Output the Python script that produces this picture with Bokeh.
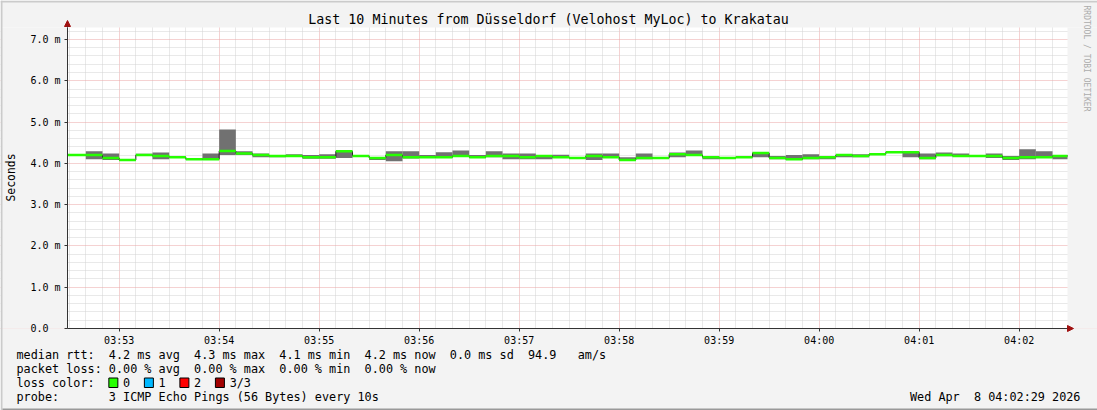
import re
import numpy as np
from bokeh.plotting import figure
from bokeh.models import Range1d, FixedTicker, Arrow, NormalHead
from bokeh.core.properties import value
from bokeh.embed import file_html
from bokeh.resources import INLINE

# ---------------- data ----------------
title_text = "Last 10 Minutes from Düsseldorf (Velohost MyLoc) to Krakatau"
first_step_start = "03:52:30"
window_start = "03:52:29"
window_end = "04:02:29"
step_seconds = 10

median_ms = [4.20, 4.20, 4.13, 4.08, 4.20, 4.18, 4.15, 4.10, 4.10, 4.30,
             4.24, 4.20, 4.18, 4.18, 4.15, 4.15, 4.29, 4.18, 4.13, 4.20,
             4.15, 4.15, 4.15, 4.18, 4.15, 4.18, 4.18, 4.15, 4.18, 4.15,
             4.13, 4.18, 4.15, 4.08, 4.13, 4.13, 4.22, 4.20, 4.15, 4.13,
             4.15, 4.25, 4.13, 4.10, 4.13, 4.15, 4.20, 4.18, 4.22, 4.27,
             4.27, 4.13, 4.20, 4.18, 4.18, 4.18, 4.13, 4.15, 4.15, 4.18]
min_ms = [4.19, 4.10, 4.08, 4.06, 4.19, 4.10, 4.14, 4.09, 4.09, 4.20,
          4.20, 4.15, 4.15, 4.17, 4.11, 4.11, 4.13, 4.17, 4.08, 4.05,
          4.12, 4.13, 4.13, 4.17, 4.13, 4.15, 4.10, 4.10, 4.10, 4.13,
          4.12, 4.08, 4.13, 4.06, 4.10, 4.12, 4.15, 4.18, 4.10, 4.12,
          4.14, 4.15, 4.10, 4.08, 4.10, 4.10, 4.15, 4.15, 4.21, 4.26,
          4.15, 4.10, 4.17, 4.17, 4.17, 4.13, 4.08, 4.10, 4.15, 4.10]
max_ms = [4.21, 4.29, 4.24, 4.10, 4.23, 4.26, 4.16, 4.13, 4.24, 4.82,
          4.29, 4.24, 4.20, 4.22, 4.20, 4.22, 4.29, 4.19, 4.15, 4.29,
          4.29, 4.20, 4.27, 4.31, 4.20, 4.29, 4.24, 4.24, 4.18, 4.21,
          4.14, 4.24, 4.24, 4.15, 4.24, 4.14, 4.26, 4.31, 4.18, 4.14,
          4.16, 4.26, 4.18, 4.20, 4.22, 4.15, 4.22, 4.22, 4.23, 4.28,
          4.29, 4.24, 4.26, 4.24, 4.19, 4.24, 4.18, 4.34, 4.29, 4.20]

x_tick_labels = ["03:53", "03:54", "03:55", "03:56", "03:57",
                 "03:58", "03:59", "04:00", "04:01", "04:02"]
y_tick_values = [0, 1, 2, 3, 4, 5, 6, 7]
y_tick_labels = ["0.0", "1.0 m", "2.0 m", "3.0 m", "4.0 m", "5.0 m", "6.0 m", "7.0 m"]
y_axis_title = "Seconds"

stat_lines = [
    "median rtt:  4.2 ms avg  4.3 ms max  4.1 ms min  4.2 ms now  0.0 ms sd  94.9   am/s",
    "packet loss: 0.00 % avg  0.00 % max  0.00 % min  0.00 % now",
]
loss_title = "loss color:"
loss_labels = ["0", "1", "2", "3/3"]
loss_colors = ["#26ff00", "#00b8ff", "#ff0000", "#a10000"]
probe_line = "probe:       3 ICMP Echo Pings (56 Bytes) every 10s"
date_line = "Wed Apr  8 04:02:29 2026"
watermark = "RRDTOOL / TOBI OETIKER"

# ---------------- helpers ----------------
def hms(s):
    parts = [int(v) for v in s.split(":")]
    while len(parts) < 3:
        parts.append(0)
    return parts[0] * 3600 + parts[1] * 60 + parts[2]

T0 = hms(first_step_start)
X0 = hms(window_start) - T0
X1 = hms(window_end) - T0
YMAX = 7.29

W, H = 1097, 410
CHART_L, CHART_B = 67.0, 328.0     # chart area, canvas pixels
CHART_W, CHART_H = 1000.0, 301.0

def DX(px):
    return X0 + (px - CHART_L) * (X1 - X0) / CHART_W

def DY(py):
    return (CHART_B - py) * YMAX / CHART_H

FONT = "DejaVu Sans Mono"
BG = "#f3f3f3"
AXIS = "#333333"
ARROWC = "#a01010"
SMOKE = "#717171"
MEDLINE = "#202020"

n = len(median_ms)
edges = np.arange(n + 1) * step_seconds
lefts = np.clip(edges[:-1].astype(float), X0, X1)
rights = np.clip(edges[1:].astype(float), X0, X1)
lefts[0] = X0
med = np.array(median_ms)
half_band = 1.25 * YMAX / CHART_H

x_ticks = [hms(t) - T0 for t in x_tick_labels]
x_minor = [t for t in range(0, int(X1) + 1, step_seconds) if t not in x_ticks]
y_minor = [round(v * 0.2, 2) for v in range(0, 37) if v % 5 != 0]

# ---------------- figure (frame = whole canvas) ----------------
p = figure(width=W, height=H, x_range=Range1d(DX(0), DX(W)), y_range=Range1d(DY(H), DY(0)),
           output_backend="svg", toolbar_location=None, min_border=0,
           background_fill_color="#ffffff", border_fill_color=BG,
           outline_line_color=None)

xt = FixedTicker(ticks=x_ticks, minor_ticks=x_minor)
yt = FixedTicker(ticks=y_tick_values, minor_ticks=y_minor)
p.xaxis.ticker = xt
p.xgrid.ticker = xt
p.yaxis.ticker = yt
p.ygrid.ticker = yt
p.xaxis.fixed_location = 0
p.yaxis.fixed_location = X0
p.xaxis.bounds = (X0, X1)
p.yaxis.bounds = (0, YMAX)

for g in (p.xgrid, p.ygrid):
    g.grid_line_color = "#eba5a5"
    g.grid_line_dash = "1 1"
    g.minor_grid_line_color = "#d2d2d2"
    g.minor_grid_line_dash = "1 1"

p.xaxis.major_label_overrides = {t: l for t, l in zip(x_ticks, x_tick_labels)}
p.yaxis.major_label_overrides = {
    v: (l + "\u00a0" * (5 - len(l))) for v, l in zip(y_tick_values, y_tick_labels)}

for ax in (p.xaxis, p.yaxis):
    ax.axis_line_color = AXIS
    ax.major_tick_line_color = AXIS
    ax.minor_tick_line_color = None
    ax.major_tick_out = 3
    ax.major_tick_in = 0
    ax.major_label_text_font = FONT
    ax.major_label_text_font_size = "10px"
    ax.major_label_text_color = "#000000"
p.xaxis.major_label_standoff = 2
p.yaxis.major_label_standoff = 3

# page background around the chart area (covers grid outside the chart)
cov_l = [DX(0), DX(0), DX(0), X1]
cov_r = [DX(W), DX(W), X0, DX(W)]
cov_b = [DY(H), YMAX, 0, 0]
cov_t = [0, DY(0), YMAX, YMAX]
p.quad(left=cov_l, right=cov_r, bottom=cov_b, top=cov_t, fill_color=BG, line_color=None)
# 3D frame of the image
p.quad(left=[DX(0), DX(0)], right=[DX(W), DX(2)], bottom=[DY(2), DY(H)], top=[DY(0), DY(0)],
       fill_color="#cbcbcb", line_color=None)
p.quad(left=[DX(2)], right=[DX(W)], bottom=[DY(H)], top=[DY(H - 2)],
       fill_color="#999999", line_color=None)

# smoke (min..max of pings)
p.quad(left=lefts, right=rights, bottom=min_ms, top=max_ms,
       fill_color=SMOKE, line_color=None)
# dark median step line
sx = np.column_stack([lefts, rights]).ravel()
sy = np.repeat(med, 2)
p.line(sx, sy, line_color=MEDLINE, line_width=1)
# loss-colored median band
p.quad(left=lefts, right=rights, bottom=med - half_band, top=med + half_band,
       fill_color=loss_colors[0], line_color=None)

# axis arrows
p.add_layout(Arrow(end=NormalHead(size=6, fill_color=ARROWC, line_color=ARROWC, line_width=1),
                   x_start=X0, y_start=YMAX, x_end=X0, y_end=DY(20),
                   line_color=AXIS, line_width=1))
p.add_layout(Arrow(end=NormalHead(size=6, fill_color=ARROWC, line_color=ARROWC, line_width=1),
                   x_start=X1, y_start=0, x_end=DX(1073), y_end=0,
                   line_color=AXIS, line_width=1))

# ---------------- texts ----------------
def put(texts, xs, ys, size, align="left", color="#000000", angle=0.0):
    p.text(x=[DX(v) for v in xs], y=[DY(v) for v in ys], text=texts,
           text_font=value(FONT), text_font_size=value(size), text_color=color,
           text_align=align, text_baseline="middle", angle=angle)

put([title_text], [548], [19], "13.3px", align="center")
put([y_axis_title], [10], [177], "11.4px", align="center", angle=np.pi / 2)
put([watermark], [1085.5], [5], "8px", align="left", color="#ababab", angle=-np.pi / 2)

LEG_SIZE = 11.8
CW = 0.60205 * LEG_SIZE
LEG_X = 16
tx, ty, tt = [], [], []

def add_line(line, x0, py):
    for m in re.finditer(r"\S+(?: \S+)*", line):
        tx.append(x0 + m.start() * CW)
        ty.append(py)
        tt.append(m.group(0))

add_line(stat_lines[0], LEG_X, 354)
add_line(stat_lines[1], LEG_X, 368)
add_line(loss_title, LEG_X, 382)
bl, br = [], []
for i, lab in enumerate(loss_labels):
    bx = LEG_X + (13 + 5 * i) * CW
    bl.append(DX(bx))
    br.append(DX(bx + 9))
    add_line(lab, LEG_X + (15 + 5 * i) * CW, 382)
add_line(probe_line, LEG_X, 396)
add_line(date_line, 1080 - len(date_line) * CW, 396)
put(tt, tx, ty, f"{LEG_SIZE}px")

p.quad(left=bl, right=br, top=[DY(377.5)] * len(bl), bottom=[DY(387)] * len(bl),
       fill_color=loss_colors, line_color="#000000", line_width=1)

open("out.html", "w").write(file_html(p, INLINE))
